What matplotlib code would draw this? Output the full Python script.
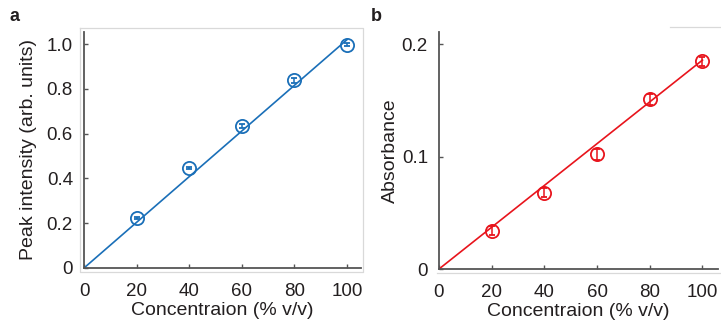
import matplotlib
matplotlib.use('Agg')
import matplotlib.pyplot as plt
from matplotlib.lines import Line2D
import numpy as np

plt.rcParams['font.family'] = ['Liberation Sans', 'DejaVu Sans']

# concentration (% v/v)
conc = [20, 40, 60, 80, 100]

# panel a: peak intensity
peak = [0.222, 0.447, 0.633, 0.838, 0.998]
peak_err = [0.004, 0.006, 0.008, 0.010, 0.006]
peak_fit_x = [0, 100]
peak_fit_y = [0, 1.02]

# panel b: absorbance
absb = [0.034, 0.068, 0.102, 0.151, 0.185]
absb_err = [0.004, 0.004, 0.005, 0.005, 0.004]
absb_fit_x = [0, 100]
absb_fit_y = [0, 0.186]

xticks = [0, 20, 40, 60, 80, 100]
xticklabels = ['0', '20', '40', '60', '80', '100']

blue = '#1a6fb8'
red = '#e8141c'
spine_col = '#555555'
text_col = '#231f20'
W, H = 721, 327
TICK_FS = 13.5
LABEL_FS = 14

fig = plt.figure(figsize=(7.21, 3.27), dpi=100)

def px(x0, y0, x1, y1):
    # pixel box (top-left origin) -> figure fraction rect
    return [x0 / W, 1 - y1 / H, (x1 - x0) / W, (y1 - y0) / H]

def style(ax):
    for s in ['top', 'right']:
        ax.spines[s].set_visible(False)
    for s in ['left', 'bottom']:
        ax.spines[s].set_color(spine_col)
        ax.spines[s].set_linewidth(1.3)
    ax.tick_params(direction='in', length=3, width=1, color=spine_col,
                   labelsize=TICK_FS, labelcolor=text_col)
    ax.tick_params(axis='y', pad=8)
    ax.tick_params(axis='x', pad=11)
    ax.set_xticks(xticks)
    ax.set_xticklabels(xticklabels)

# panel a
ax1 = fig.add_axes(px(84, 32, 361, 268))
ax1.plot(peak_fit_x, peak_fit_y, color=blue, lw=1.2)
ax1.errorbar(conc, peak, yerr=peak_err, fmt='o', mfc='none', mec=blue,
             ecolor=blue, ms=9.5, mew=1.3, capsize=2.5, elinewidth=1.1)
ax1.set_xlim(0, 105.3)
ax1.set_ylim(0, 1.054)
ax1.set_yticks([0, 0.2, 0.4, 0.6, 0.8, 1.0])
ax1.set_yticklabels(['0', '0.2', '0.4', '0.6', '0.8', '1.0'])
style(ax1)
ax1.set_xlabel('Concentraion (% v/v)', fontsize=LABEL_FS, color=text_col, labelpad=1)
ax1.set_ylabel('Peak intensity (arb. units)', fontsize=LABEL_FS, color=text_col, labelpad=7)

# panel b
ax2 = fig.add_axes(px(439, 32, 718, 269))
ax2.plot(absb_fit_x, absb_fit_y, color=red, lw=1.2)
ax2.errorbar(conc, absb, yerr=absb_err, fmt='o', mfc='none', mec=red,
             ecolor=red, ms=9.5, mew=1.3, capsize=2.5, elinewidth=1.1)
ax2.set_xlim(0, 105.9)
ax2.set_ylim(0, 0.211)
ax2.set_yticks([0, 0.1, 0.2])
ax2.set_yticklabels(['0', '0.1', '0.2'])
style(ax2)
ax2.set_xlabel('Concentraion (% v/v)', fontsize=LABEL_FS, color=text_col, labelpad=1)
ax2.set_ylabel('Absorbance', fontsize=LABEL_FS, color=text_col, labelpad=2)

# light gray frames around the panels
def fline(xs, ys):
    fig.add_artist(Line2D([x / W for x in xs], [1 - y / H for y in ys],
                          color='#d9d9d9', lw=0.9))

fline([80, 363, 363, 80, 80], [28, 28, 272, 272, 28])
fline([670, 721], [27, 27])
fline([437, 721], [273, 273])

# panel letters
fig.text(10 / W, 1 - 21 / H, 'a', fontsize=13, fontweight='bold', color=text_col)
fig.text(371 / W, 1 - 21 / H, 'b', fontsize=13, fontweight='bold', color=text_col)

fig.savefig('out.png', dpi=100)
